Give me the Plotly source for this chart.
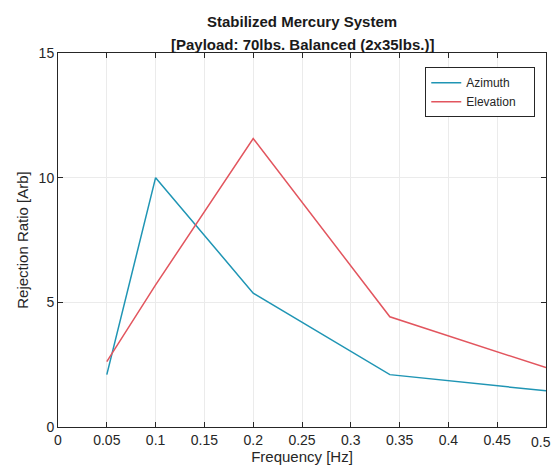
import plotly.graph_objects as go

freq_az = [0.05, 0.1, 0.2, 0.34, 0.5]
azimuth = [2.1, 10.0, 5.37, 2.1, 1.45]
freq_el = [0.05, 0.1, 0.2, 0.34, 0.5]
elevation = [2.62, 5.7, 11.57, 4.42, 2.38]
xticks = [0, 0.05, 0.1, 0.15, 0.2, 0.25, 0.3, 0.35, 0.4, 0.45, 0.5]
xtick_labels = ["0", "0.05", "0.1", "0.15", "0.2", "0.25", "0.3", "0.35", "0.4", "0.45", "0.5"]
yticks = [0, 5, 10, 15]
title_lines = ["Stabilized Mercury System", "[Payload: 70lbs. Balanced (2x35lbs.)]"]

FONT = "Liberation Sans, Arial, sans-serif"

fig = go.Figure()
fig.add_trace(go.Scatter(x=freq_az, y=azimuth, mode="lines", name="Azimuth    ",
                         line=dict(color="#1f95b4", width=1.5)))
fig.add_trace(go.Scatter(x=freq_el, y=elevation, mode="lines", name="Elevation    ",
                         line=dict(color="#e2555e", width=1.5)))

axis_common = dict(showline=True, linecolor="#262626", linewidth=1, mirror="ticks",
                   ticks="inside", ticklen=5, tickcolor="#262626",
                   showgrid=True, gridcolor="#ebebeb", gridwidth=1, zeroline=False,
                   automargin=False,
                   tickfont=dict(family=FONT, size=14, color="#262626"))

fig.update_layout(
    width=553, height=474,
    paper_bgcolor="white", plot_bgcolor="white",
    margin=dict(l=58, r=7, t=53, b=47, pad=0),
    font=dict(family=FONT, color="#262626"),
    xaxis=dict(range=[0, 0.5], tickvals=xticks, ticktext=xtick_labels,
               title=dict(text="Frequency [Hz]", font=dict(family=FONT, size=15), standoff=2),
               **axis_common),
    yaxis=dict(range=[0, 15], tickvals=yticks,
               title=dict(text="Rejection Ratio [Arb]", font=dict(family=FONT, size=15), standoff=6),
               **axis_common),
    legend=dict(x=0.978, y=0.962, xanchor="right", yanchor="top",
                bgcolor="white", bordercolor="#262626", borderwidth=1,
                font=dict(family=FONT, size=12, color="#262626"),
                tracegroupgap=0),
    showlegend=True,
)

# last x tick label, kept just inside the right edge
fig.add_annotation(text=xtick_labels[-1], xref="x", yref="paper",
                   x=xticks[-1], y=0, yshift=-5, xshift=-5, xanchor="center", yanchor="top",
                   showarrow=False, font=dict(family=FONT, size=14, color="#262626"))

fig.add_annotation(text="<b>" + title_lines[0] + "</b>", xref="paper", yref="paper",
                   x=0.5, y=1, yshift=32, xanchor="center", yanchor="middle",
                   showarrow=False, font=dict(family=FONT, size=15, color="#1a1a1a"))
fig.add_annotation(text="<b>" + title_lines[1] + "</b>", xref="paper", yref="paper",
                   x=0.5, y=1, yshift=9, xanchor="center", yanchor="middle",
                   showarrow=False, font=dict(family=FONT, size=15, color="#1a1a1a"))

fig.write_html("out.html", config={"displayModeBar": False},
               post_script="document.body.style.margin='0';")
